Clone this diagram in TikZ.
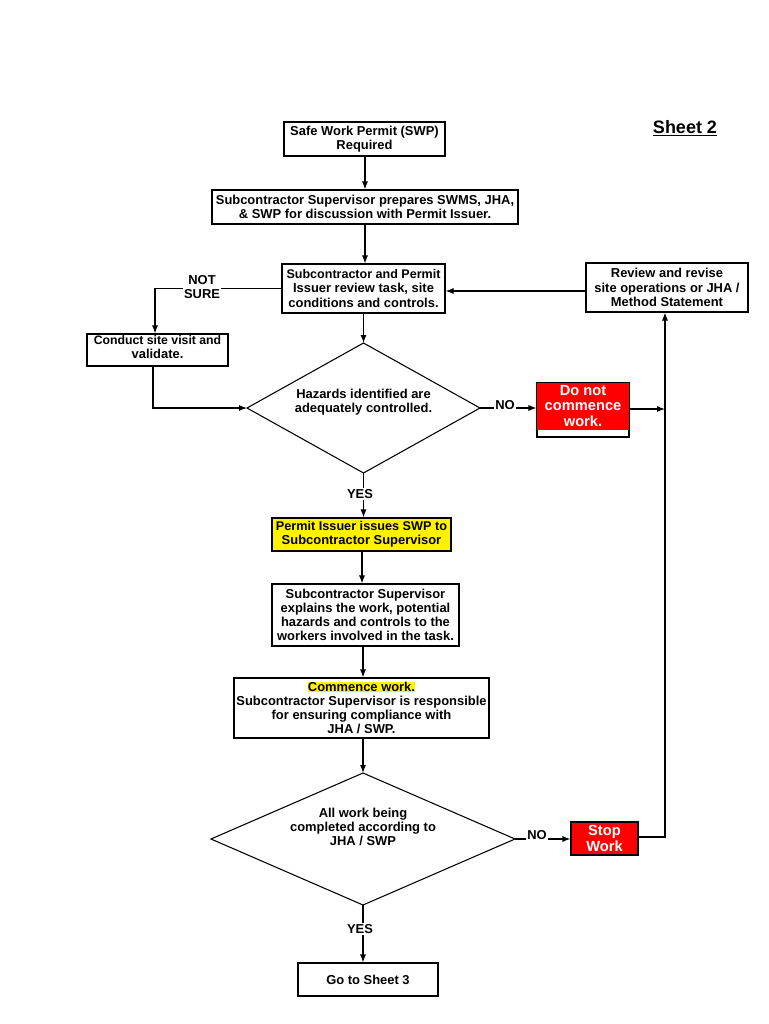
\documentclass[tikz,border=0pt]{standalone}
\usepackage{fontspec}
\setmainfont{Liberation Sans}
\usetikzlibrary{arrows.meta}
\begin{document}
\begin{tikzpicture}[x=0.75pt,y=-0.75pt,
  every node/.style={font=\bfseries\fontsize{9.7}{10.6}\selectfont, align=center, inner sep=0pt},
  box/.style={draw, line width=0.8pt, fill=white},
  redbox/.style={draw, line width=0.8pt, fill=red, text=white, font=\bfseries\fontsize{11}{12}\selectfont},
  lab/.style={fill=white, inner sep=1pt},
  arr/.style={-{Latex[length=6pt,width=4.5pt]}, line width=0.8pt},
  ln/.style={line width=0.8pt}]
\useasboundingbox (0,0) rectangle (768,1024);
\fill[white] (0,0) rectangle (768,1024);

\node (sheet) at (685,128) {\fontsize{13.5}{15}\selectfont\underline{Sheet 2}};

\node[box, minimum width=120.75pt, minimum height=25.5pt] (b1) at (364.5,139) {Safe Work Permit (SWP)\\Required};
\node[box, minimum width=229.5pt, minimum height=25.5pt] (b2) at (365,207) {Subcontractor Supervisor prepares SWMS, JHA,\\\& SWP for discussion with Permit Issuer.};
\node[box, minimum width=122.25pt, minimum height=36.75pt] (b3) at (363.5,288.5) {\fontsize{9.4}{10.6}\selectfont Subcontractor and Permit\\Issuer review task, site\\conditions and controls.};
\node[box, minimum width=121.5pt, minimum height=36.75pt] (rev) at (667,287.5) {Review and revise\\site operations or JHA /\\Method Statement};
\node[box, minimum width=105.75pt, minimum height=24pt] (cv) at (157.5,350) {\fontsize{9.2}{10.6}\selectfont Conduct site visit and\\validate.\\[-6pt]};

% diamond 1
\coordinate (d1t) at (363.5,343);
\coordinate (d1b) at (363.5,473);
\coordinate (d1l) at (247,408);
\coordinate (d1r) at (480,408);
\draw[ln] (d1t) -- (d1r) -- (d1b) -- (d1l) -- cycle;
\node (d1) at (363.5,402) {Hazards identified are\\adequately controlled.};

% red box 1
\node[draw, line width=0.8pt, minimum width=69pt, minimum height=40.5pt, fill=white] (r1) at (583,410) {};
\fill[red] (r1.north west) ++(0.6pt,-0.6pt) rectangle ([yshift=5.5pt,xshift=-0.6pt]r1.south east);
\node[text=white, font=\bfseries\fontsize{11}{11.6}\selectfont] (r1t) at (583,406) {Do not\\commence\\work.};

\node[box, fill=yellow, minimum width=134.25pt, minimum height=24.75pt] (pi) at (361.5,534.5) {\fontsize{9.5}{10.6}\selectfont Permit Issuer issues SWP to\\Subcontractor Supervisor};
\node[box, minimum width=140.25pt, minimum height=46.5pt] (ex) at (365.5,615) {Subcontractor Supervisor\\explains the work, potential\\hazards and controls to the\\workers involved in the task.};
\node[box, minimum width=191.25pt, minimum height=45pt] (cw) at (361.5,708) {{\setlength{\fboxsep}{0.3pt}\colorbox{yellow}{Commence work.}}\\Subcontractor Supervisor is responsible\\for ensuring compliance with\\JHA / SWP.};

% diamond 2
\coordinate (d2t) at (363,773);
\coordinate (d2b) at (363,905);
\coordinate (d2l) at (211,839);
\coordinate (d2r) at (515,839);
\draw[ln] (d2t) -- (d2r) -- (d2b) -- (d2l) -- cycle;
\node (d2) at (363,827) {All work being\\completed according to\\JHA / SWP};

\node[redbox, minimum width=50.25pt, minimum height=24.75pt] (st) at (604.5,838.5) {Stop\\Work};
\node[box, minimum width=105pt, minimum height=24.75pt] (go) at (368,979.5) {Go to Sheet 3};

% connectors
\draw[arr] (b1.south -| 365,0) -- (b2.north -| 365,0);
\draw[arr] (b2.south -| 365,0) -- (b3.north -| 365,0);
\draw[arr] (b3.south -| d1t) -- (d1t);
\coordinate (ns) at (b3.west -| 155,0);
\draw[arr] (b3.west) -- (ns) -- (cv.north -| ns);
\node[lab] (nslab) at (202,287) {NOT\\SURE};
\coordinate (cvb) at (d1l -| 153,0);
\draw[arr] (cv.south -| cvb) -- (cvb) -- (d1l);
\draw[arr] (d1r) -- (r1.west |- d1r);
\node[lab] (no1) at (505,405) {NO};
\coordinate (vj) at (665,409);
\draw[arr] (r1.east |- vj) -- (vj);
\coordinate (vs) at (665,837);
\draw[arr] (st.east |- vs) -- (vs) -- (rev.south -| vs);
\draw[arr] (rev.west |- 0,291) -- (b3.east |- 0,291);
\draw[arr] (d1b) -- (pi.north -| d1b);
\node[lab] (yes1) at (360,494) {YES};
\draw[arr] (pi.south -| 362,0) -- (ex.north -| 362,0);
\draw[arr] (ex.south -| 363,0) -- (cw.north -| 363,0);
\draw[arr] (cw.south -| d2t) -- (d2t);
\draw[arr] (d2r) -- (st.west |- d2r);
\node[lab] (no2) at (537,835) {NO};
\draw[arr] (d2b) -- (go.north -| d2b);
\node[lab] (yes2) at (360,929) {YES};
\end{tikzpicture}
\end{document}
